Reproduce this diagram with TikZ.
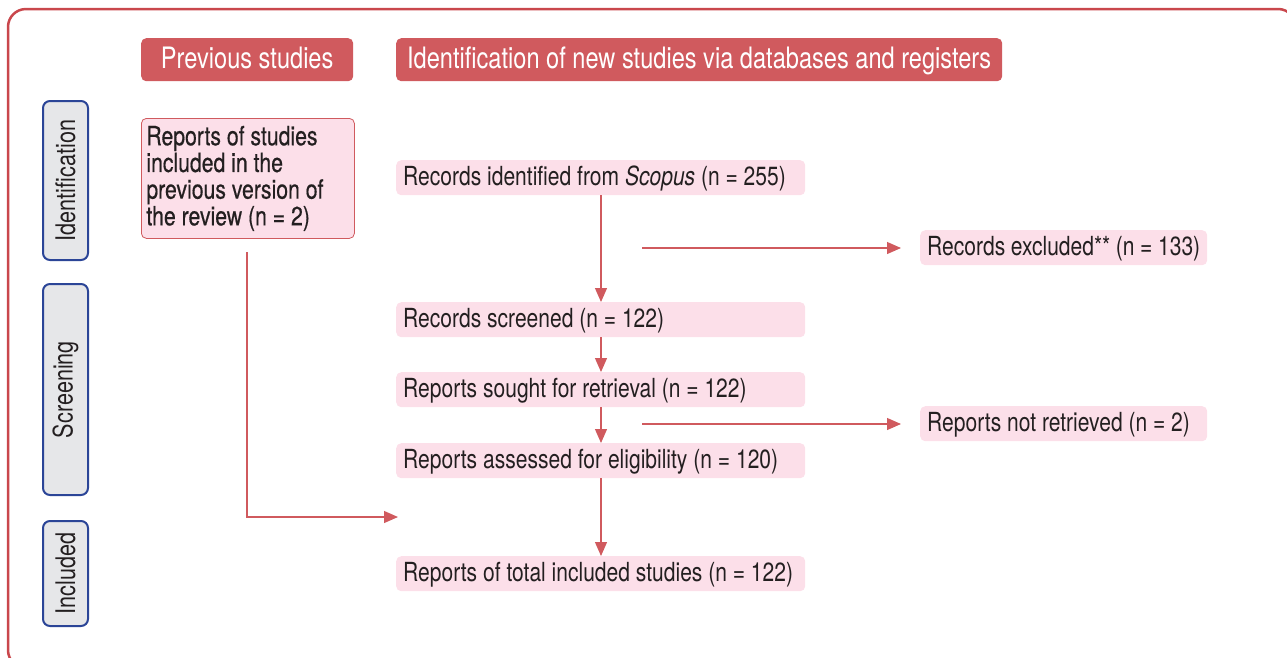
\documentclass[tikz,border=0pt]{standalone}
\usepackage{fontspec}
\setmainfont{TeX Gyre Heros}[FakeStretch=0.80, WordSpace=1.0]
\usetikzlibrary{arrows.meta}
\definecolor{hdr}{HTML}{D05A5E}
\definecolor{frm}{HTML}{C9474C}
\definecolor{pinkbox}{HTML}{FCDFE9}
\definecolor{sideb}{HTML}{2B4597}
\definecolor{sidef}{HTML}{E6E7E9}
\definecolor{txt}{HTML}{231F20}
\tikzset{
  hdrbox/.style={fill=hdr, rounded corners=5pt, text=white, font=\fontsize{29.5}{32}\selectfont, anchor=north west, inner sep=0pt, text height=22pt, text depth=5pt},
  recbox/.style={fill=pinkbox, rounded corners=5pt, text=txt, font=\fontsize{26.3}{26.5}\selectfont, anchor=north west, inner ysep=0pt, inner xsep=7pt, align=flush left, minimum height=35pt, text height=19pt, text depth=4pt},
  sidebox/.style={draw=sideb, line width=2pt, fill=sidef, rounded corners=7pt, text=txt, font=\fontsize{27}{28}\selectfont, inner sep=0pt, minimum height=45pt, rotate=90},
  conn/.style={draw=hdr, line width=1.2pt, -{Triangle[length=14pt,width=12pt]}}
}
\begin{document}
\begin{tikzpicture}[x=1pt,y=-1pt]
\useasboundingbox (0,0) rectangle (1287,657);
% outer frame
\draw[frm, line width=2.5pt, rounded corners=18pt] (8,9) rectangle (1296,668);
% headers
\node[hdrbox, minimum width=212pt, minimum height=43pt] (hprev) at (141,38) {Previous studies};
\node[hdrbox, minimum width=606pt, minimum height=43pt] (hnew) at (396,38) {Identification of new studies via databases and registers};
% side labels
\node[sidebox, minimum width=159pt] (sid) at (65.5,180.5) {Identification};
\node[sidebox, minimum width=211pt] (sscr) at (65.5,389.5) {Screening};
\node[sidebox, minimum width=105pt] (sinc) at (65.5,573.5) {Included};
% previous box
\node[fill=pinkbox, draw=hdr, line width=0.8pt, rounded corners=5pt, text=txt, font=\fontsize{26.5}{26.7}\selectfont\addfontfeature{FakeBold=0.5}, minimum width=213pt, minimum height=120pt, text width=203pt, inner xsep=5pt, inner ysep=0pt, anchor=north west, align=flush left] (prev) at (141,118) {Reports of studies\\included in the\\previous version of\\the review (n = 2)};
% main boxes
\node[recbox, text width=395pt] (rid) at (396,160) {Records identified from \textit{Scopus} (n = 255)};
\node[recbox, text width=395pt] (rscr) at (396,302) {Records screened (n = 122)};
\node[recbox, text width=395pt] (rsou) at (396,372) {Reports sought for retrieval (n = 122)};
\node[recbox, text width=395pt] (rass) at (396,443) {Reports assessed for eligibility (n = 120)};
\node[recbox, text width=395pt] (rtot) at (396,556) {Reports of total included studies (n = 122)};
\node[recbox, text width=273pt] (rexc) at (920,230) {Records excluded** (n = 133)};
\node[recbox, text width=273pt] (rnot) at (920,406) {Reports not retrieved (n = 2)};
% connectors
\coordinate (c1) at (642,248);
\coordinate (e1) at (901,248);
\coordinate (c2) at (642,424);
\coordinate (e2) at (901,424);
\coordinate (pv) at (247,252);
\coordinate (pk) at (247,517);
\coordinate (pe) at (398,517);
\draw[conn] (rid.south -| 601,0) -- (rscr.north -| 601,0);
\draw[conn] (rscr.south -| 601,0) -- (rsou.north -| 601,0);
\draw[conn] (rsou.south -| 601,0) -- (rass.north -| 601,0);
\draw[conn] (rass.south -| 601,0) -- (rtot.north -| 601,0);
\draw[conn] (c1) -- (e1);
\draw[conn] (c2) -- (e2);
\draw[conn] (pv) -- (pk) -- (pe);
\end{tikzpicture}
\end{document}
